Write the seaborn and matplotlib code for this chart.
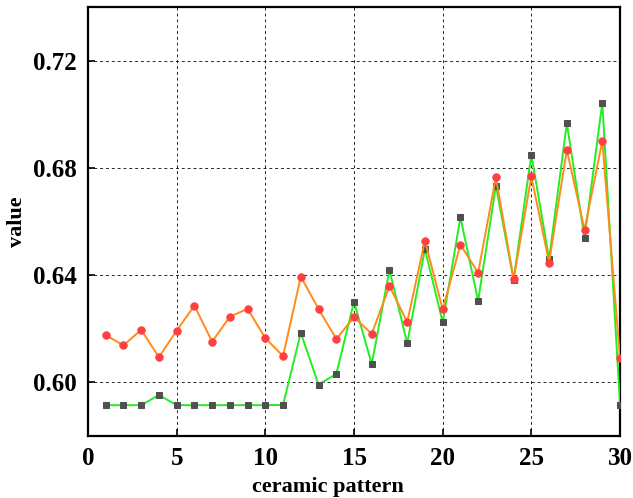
import matplotlib
matplotlib.use("Agg")
import matplotlib.pyplot as plt
import seaborn as sns
import pandas as pd

pattern = list(range(1, 31))
green_values = [0.5915, 0.5915, 0.5915, 0.5953, 0.5915, 0.5915, 0.5915, 0.5915, 0.5915, 0.5915,
                0.5916, 0.6185, 0.5992, 0.6031, 0.6301, 0.6068, 0.6419, 0.6146, 0.6497, 0.6224,
                0.6615, 0.6304, 0.6733, 0.6383, 0.6849, 0.6460, 0.6966, 0.6538, 0.7043, 0.5917]
orange_values = [0.6176, 0.6138, 0.6196, 0.6094, 0.6193, 0.6286, 0.6152, 0.6245, 0.6274, 0.6165,
                 0.6098, 0.6394, 0.6274, 0.6162, 0.6243, 0.6181, 0.6359, 0.6225, 0.6529, 0.6272,
                 0.6513, 0.6409, 0.6765, 0.6385, 0.6768, 0.6447, 0.6867, 0.6569, 0.6900, 0.6090]

df = pd.DataFrame({"pattern": pattern, "green": green_values, "orange": orange_values})

sns.set_style("white")
plt.rcParams['font.family'] = ['Liberation Serif', 'DejaVu Serif']
plt.rcParams['font.weight'] = 'bold'
plt.rcParams['text.color'] = 'black'
plt.rcParams['axes.labelcolor'] = 'black'
plt.rcParams['xtick.color'] = 'black'
plt.rcParams['ytick.color'] = 'black'

fig = plt.figure(figsize=(6.33, 4.98), dpi=100)
ax = fig.add_axes([0.139, 0.1245, 0.8405, 0.8615])

sns.lineplot(data=df, x="pattern", y="green", ax=ax, color="#22ee22", linewidth=1.4,
             marker="s", markersize=4.8, markerfacecolor="#505050", markeredgecolor="#505050", zorder=3)
sns.lineplot(data=df, x="pattern", y="orange", ax=ax, color="#ff8c1a", linewidth=1.4,
             marker="o", markersize=5.3, markerfacecolor="#ff4040", markeredgecolor="#ff4040", zorder=4)

ax.set_xlim(0, 30)
ax.set_ylim(0.58, 0.74)
ax.set_xticks([0, 5, 10, 15, 20, 25, 30])
ax.set_yticks([0.60, 0.64, 0.68, 0.72])
ax.set_yticklabels(["0.60", "0.64", "0.68", "0.72"])
ax.grid(True, color="black", linestyle=(0, (3, 3)), linewidth=0.7, alpha=0.85)
ax.set_axisbelow(True)
for s in ax.spines.values():
    s.set_visible(True)
    s.set_color("black")
    s.set_linewidth(1.6)
ax.tick_params(axis="both", direction="in", length=5, width=1.2, labelsize=18, pad=8,
               bottom=True, left=True, top=False, right=False)
for lbl in ax.get_xticklabels() + ax.get_yticklabels():
    lbl.set_fontweight("bold")
ax.set_xlabel("ceramic pattern", fontsize=16, fontweight="bold")
ax.set_ylabel("value", fontsize=16, fontweight="bold")
ax.xaxis.set_label_coords(0.451, -0.095)
ax.yaxis.set_label_coords(-0.115, 0.5)

fig.savefig("out.png", dpi=100)
